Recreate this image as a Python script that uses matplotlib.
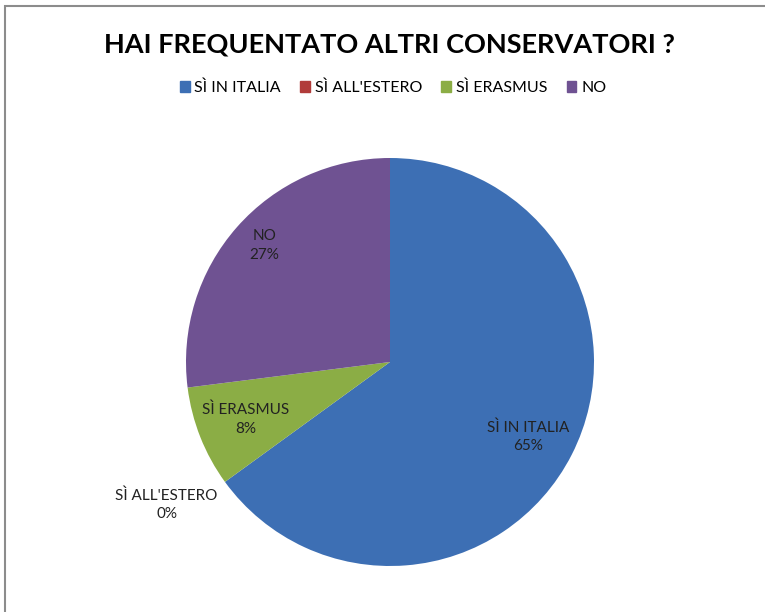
import matplotlib.pyplot as plt
import numpy as np
from matplotlib.patches import Rectangle

plt.rcParams['font.family'] = ['Lato', 'DejaVu Sans']

CATEGORIES = ["SÌ IN ITALIA", "SÌ ALL'ESTERO", "SÌ ERASMUS", "NO"]
PERCENT = [65, 0, 8, 27]
COLORS = ["#3d6fb4", "#b13c3a", "#8bad45", "#6f5292"]
TITLE = "HAI FREQUENTATO ALTRI CONSERVATORI ?"

fig = plt.figure(figsize=(7.65, 6.12), dpi=100)

# chart frame (left and top visible, the rest runs off the picture)
fig.patches.append(Rectangle((5 / 765, -0.1), 1.2, 1 - 6 / 612 + 0.1,
                             transform=fig.transFigure, fill=False,
                             edgecolor="#8c8c8c", linewidth=1.5))

ax = fig.add_axes([186 / 765, 1 - 566 / 612, 408 / 765, 408 / 612])
wedges, _ = ax.pie(PERCENT, colors=COLORS, startangle=90, counterclock=False,
                   radius=1, wedgeprops=dict(linewidth=0))
ax.set_xlim(-1, 1)
ax.set_ylim(-1, 1)
ax.set_aspect("equal")
ax.axis("off")

# data labels, Excel style: inside slices, the empty slice placed outside
dist = [0.77, 1.30, 0.76, 0.84]
shift = [-1.5, -3.4, 0, -1.5]
for w, cat, pct, d, s in zip(wedges, CATEGORIES, PERCENT, dist, shift):
    mid = np.deg2rad((w.theta1 + w.theta2) / 2 + s)
    ax.text(d * np.cos(mid), d * np.sin(mid), f"{cat}\n{pct}%",
            ha="center", va="center", fontsize=11, color="#222222",
            linespacing=1.4)

fig.text(389 / 765, 1 - 44 / 612, TITLE, ha="center", va="center",
         fontsize=19.5, fontweight="bold", color="black")

handles = [Rectangle((0, 0), 1, 1, color=c) for c in COLORS]
fig.legend(handles, CATEGORIES, loc="center", bbox_to_anchor=(393 / 765, 1 - 88 / 612),
           ncol=4, frameon=False, fontsize=11.5, handlelength=0.62,
           handleheight=0.62, handletextpad=0.3, columnspacing=1.2)

fig.savefig("out.png", dpi=100)
